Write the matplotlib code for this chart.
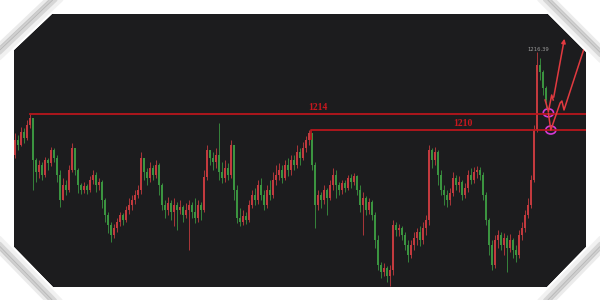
import numpy as np
import matplotlib
matplotlib.use("Agg")
import matplotlib.pyplot as plt
from matplotlib.patches import Ellipse, Polygon, PathPatch
from matplotlib.path import Path

# price data (open of each bar = previous close)
first_open = 1203.75
close = [1207.5, 1206.25, 1209.5, 1208, 1211.25, 1213, 1202.5, 1199.5, 1201.25, 1198.75,
         1202.5, 1201.75, 1205, 1203, 1198.75, 1192.5, 1196.25, 1195, 1200, 1205.5,
         1200, 1196.25, 1195, 1196, 1195, 1197.5, 1198.75, 1196.25, 1197, 1192.5,
         1188.75, 1186.25, 1183.75, 1185.5, 1187, 1188.75, 1187.5, 1190, 1191.25, 1192.5,
         1193.75, 1195, 1203, 1199.5, 1198, 1200.5, 1198.75, 1201.25, 1196.25, 1191.25,
         1190, 1191.75, 1189.5, 1191.25, 1190, 1190.75, 1188.75, 1190, 1191.25, 1189.5,
         1188, 1191.25, 1190, 1198.25, 1205, 1203, 1202, 1203.75, 1199.5, 1198,
         1200.5, 1198.75, 1206.25, 1195, 1188, 1187, 1188.5, 1187.5, 1191.25, 1193.75,
         1192.5, 1196.25, 1193.75, 1191.25, 1195, 1193.75, 1197.5, 1198.75, 1200, 1198,
         1201.25, 1200, 1202.5, 1201.25, 1204.5, 1203, 1205.5, 1207.5, 1209.25, 1201.25,
         1191.25, 1193.75, 1192.5, 1195, 1193, 1196.25, 1198.75, 1196.25, 1195, 1196.75,
         1195.5, 1198, 1197, 1198.5, 1195, 1191.25, 1193, 1190, 1192, 1188.75,
         1182.5, 1176.25, 1174.5, 1175.5, 1173.5, 1175, 1186.25, 1185, 1185.5, 1183.75,
         1181.25, 1178.75, 1181.25, 1183, 1184.5, 1182.5, 1185.5, 1187.5, 1205, 1202.5,
         1204.5, 1198.75, 1195, 1193.75, 1192.5, 1194.25, 1198, 1196.25, 1197, 1193.75,
         1195.5, 1198.75, 1197.5, 1199.5, 1200, 1198.75, 1193.75, 1187.5, 1181.25, 1176.25,
         1182.5, 1183.75, 1181.25, 1183, 1180.5, 1182.5, 1180, 1178.75, 1183.75, 1185.5,
         1188.75, 1191.25, 1197.5, 1210, 1226.25, 1224.5, 1220.5, 1217.5]
high = [1209.25, 1208.75, 1210.75, 1210.5, 1212.5, 1214, 1212.5, 1203, 1202.5, 1202,
        1203.25, 1203, 1205.75, 1205.5, 1203.75, 1200, 1198, 1197.5, 1201.25, 1206.75,
        1205, 1200.5, 1196.75, 1197, 1196.5, 1198.5, 1200, 1199.5, 1198, 1197.5,
        1193, 1189.5, 1187, 1186.5, 1188, 1189.5, 1189.25, 1191, 1193, 1193.75,
        1195, 1196.25, 1204.5, 1202.5, 1200.5, 1202, 1201.25, 1202.5, 1201.75, 1196.75,
        1192.5, 1193.25, 1192.5, 1193, 1192, 1192.5, 1191.25, 1191.75, 1192.5, 1192,
        1193, 1192.5, 1192, 1200, 1206.25, 1205, 1204.5, 1205.5, 1211.75, 1202,
        1202.5, 1201.75, 1207.5, 1205.5, 1196.25, 1190.5, 1190, 1189.5, 1192.5, 1195,
        1195.5, 1197.5, 1198, 1195, 1196.25, 1197.5, 1199.5, 1201.25, 1201.75, 1201.25,
        1202.5, 1203, 1203.75, 1203.75, 1206.25, 1205.5, 1207, 1208.5, 1210, 1208.75,
        1202, 1195, 1194.5, 1196.25, 1195.5, 1197.5, 1200.5, 1200, 1197, 1197.5,
        1197.5, 1198.75, 1199, 1199.25, 1198.75, 1196.25, 1194.5, 1193.5, 1193, 1192.5,
        1189.5, 1183.75, 1177, 1176.75, 1176, 1176.25, 1187.5, 1187, 1186.5, 1186,
        1184.5, 1182.5, 1182.5, 1184.5, 1185.5, 1186, 1187, 1188.75, 1206.25, 1205.5,
        1205.75, 1205, 1200, 1196.25, 1195, 1195.5, 1199.5, 1198.75, 1198.5, 1197.5,
        1196.75, 1200, 1200.5, 1200.75, 1201, 1200.75, 1199.5, 1194.5, 1188, 1182.5,
        1183.75, 1185, 1184.5, 1184.25, 1183.75, 1184, 1183, 1181.25, 1185, 1187,
        1190, 1193, 1198.75, 1211.25, 1229.5, 1228, 1225, 1221]
low = [1203, 1205, 1206, 1206.75, 1207.5, 1210.5, 1195, 1197, 1198, 1197.5,
       1198.25, 1200, 1201, 1202, 1197, 1190.75, 1193.75, 1193.75, 1194.5, 1199.5,
       1198.75, 1194.25, 1194, 1194.25, 1194, 1194.5, 1196.5, 1194.5, 1195, 1190.5,
       1187, 1184.25, 1182, 1183, 1184.5, 1186, 1186.25, 1187, 1189, 1190,
       1191.5, 1193, 1194, 1197.5, 1196.25, 1197, 1197.5, 1198, 1193.75, 1190,
       1188, 1188.75, 1187.5, 1186, 1185, 1189, 1187, 1188, 1180, 1188,
       1186.75, 1187, 1187.5, 1189.5, 1197.5, 1201.25, 1200, 1200.5, 1197.5, 1196.75,
       1197, 1197.5, 1198, 1192.5, 1186.75, 1186, 1186.25, 1186.5, 1187, 1190.5,
       1191.25, 1191.5, 1192.5, 1190, 1190.5, 1192.5, 1193, 1196.25, 1197.5, 1196.75,
       1197.5, 1198.5, 1198.75, 1200, 1200.5, 1201.25, 1202.5, 1204.5, 1206.25, 1200,
       1185.5, 1190, 1190.5, 1191.5, 1188.75, 1192.5, 1195, 1193, 1193.75, 1194,
       1194.5, 1195, 1195.5, 1196.25, 1193.75, 1189.5, 1183.75, 1188.75, 1189, 1187.5,
       1180.5, 1175, 1173, 1173.5, 1172, 1171, 1173.75, 1183.5, 1183.5, 1182.5,
       1180, 1177, 1178, 1180, 1181.25, 1181, 1181.5, 1183.75, 1186.25, 1200.5,
       1201.25, 1196.25, 1193.75, 1191.25, 1190.75, 1191.25, 1193.5, 1195, 1194.5, 1192.5,
       1193, 1194.5, 1196.5, 1196.75, 1198, 1197.5, 1192.5, 1186.25, 1178.75, 1175,
       1175.5, 1180.5, 1180, 1178.75, 1174.5, 1179.5, 1178, 1177, 1178, 1182.5,
       1184.5, 1188, 1190.5, 1197, 1209.5, 1222.5, 1218.75, 1215.5]

levels = [1214, 1210]
level_labels = ["1214", "1210"]
peak_label = "1216.39"

W, H = 600, 300
fig = plt.figure(figsize=(6, 3), dpi=100)
fig.patch.set_facecolor("white")

# frame outline (pixel coords, y down)
octagon = [(14, 50), (52, 14), (548, 14), (586, 52), (586, 247), (547, 287), (53, 287), (14, 247)]

bg = fig.add_axes([0, 0, 1, 1], zorder=0)
bg.set_xlim(0, W)
bg.set_ylim(H, 0)
bg.axis("off")
bg.add_patch(Polygon(octagon, closed=True, facecolor="#1c1c1e", edgecolor="none"))

# candles
ax = fig.add_axes([0, 0, 1, 1], zorder=1)
ax.patch.set_alpha(0)
ax.axis("off")
n = len(close)
x = np.arange(n)
c = np.array(close)
o = np.concatenate([[first_open], c[:-1]])
hi = np.maximum(np.array(high), np.maximum(o, c))
lo = np.minimum(np.array(low), np.minimum(o, c))
up = c >= o
cols = np.where(up, "#c23a3e", "#3b9440")
ax.vlines(x, lo, hi, colors=cols, linewidth=0.6)
body = np.where(np.abs(c - o) < 0.3, 0.3, c - o)
ax.bar(x, body, bottom=o, width=0.6, color=cols, linewidth=0)
ax.set_xlim(-5, 195)
ax.set_ylim(1167.5, 1242.5)

# support / resistance lines
line_col = "#b8161c"
ax.plot([5, 190.3], [levels[0], levels[0]], color=line_col, lw=1.3)
ax.plot([98.7, 98.7, 190.3], [1207.8, levels[1], levels[1]], color=line_col, lw=1.3)
ax.text(101, levels[0] + 0.4, level_labels[0], color="#c9181e", fontsize=7,
        family="Liberation Serif", fontweight="bold", ha="center", va="bottom")
ax.text(149.3, levels[1] + 0.4, level_labels[1], color="#c9181e", fontsize=7,
        family="Liberation Serif", fontweight="bold", ha="center", va="bottom")
ax.text(174.3, 1229.6, peak_label, color="#9a9a9a", fontsize=3.8, ha="center", va="bottom")

# hand drawn forecast arrows
arr = "#e23a40"
ax.plot([176.7, 177.8, 178.9, 179.4], [1217.5, 1214.6, 1218.75, 1217.5], color=arr, lw=1.1)
ax.annotate("", xy=(183.3, 1233.5), xytext=(179.4, 1217.5),
            arrowprops=dict(arrowstyle="-|>", color=arr, lw=1.1, mutation_scale=6))
ax.plot([177.8, 178.6, 181.7, 182.3, 183, 191.7], [1214.2, 1210, 1216.75, 1217.25, 1215, 1235],
        color=arr, lw=1.1)
for cx, cy in [(177.8, 1214.3), (178.6, 1210)]:
    ax.add_patch(Ellipse((cx, cy), 3.4, 2.0, facecolor="none", edgecolor="#d33ad6", lw=1.2))

# white frame over everything outside the octagon, with bevel shading
ov = fig.add_axes([0, 0, 1, 1], zorder=2)
ov.patch.set_alpha(0)
ov.set_xlim(0, W)
ov.set_ylim(H, 0)
ov.axis("off")
outer = [(0, 0), (W, 0), (W, H), (0, H), (0, 0)]
inner = octagon[::-1] + [octagon[-1]]
verts = outer + inner
codes = [Path.MOVETO] + [Path.LINETO] * 3 + [Path.CLOSEPOLY] + \
        [Path.MOVETO] + [Path.LINETO] * (len(inner) - 2) + [Path.CLOSEPOLY]
ov.add_patch(PathPatch(Path(verts, codes), facecolor="white", edgecolor="none"))

cuts = [((14, 50), (52, 14), (-1, -1)), ((548, 14), (586, 52), (1, -1)),
        ((586, 247), (547, 287), (1, 1)), ((53, 287), (14, 247), (-1, 1))]
for p1, p2, nrm in cuts:
    p1 = np.array(p1, float)
    p2 = np.array(p2, float)
    nv = np.array(nrm, float) / np.sqrt(2)
    d = (p2 - p1) / np.linalg.norm(p2 - p1)
    for off, a, lw in [(4, 0.10, 3), (8, 0.30, 3), (11, 0.35, 2.5), (14, 0.15, 3)]:
        a1 = p1 + nv * off - d * 20
        a2 = p2 + nv * off + d * 20
        ov.plot([a1[0], a2[0]], [a1[1], a2[1]], color="#7a7a7a", alpha=a, lw=lw,
                solid_capstyle="butt")

fig.savefig("out.png", dpi=100, facecolor="white")
